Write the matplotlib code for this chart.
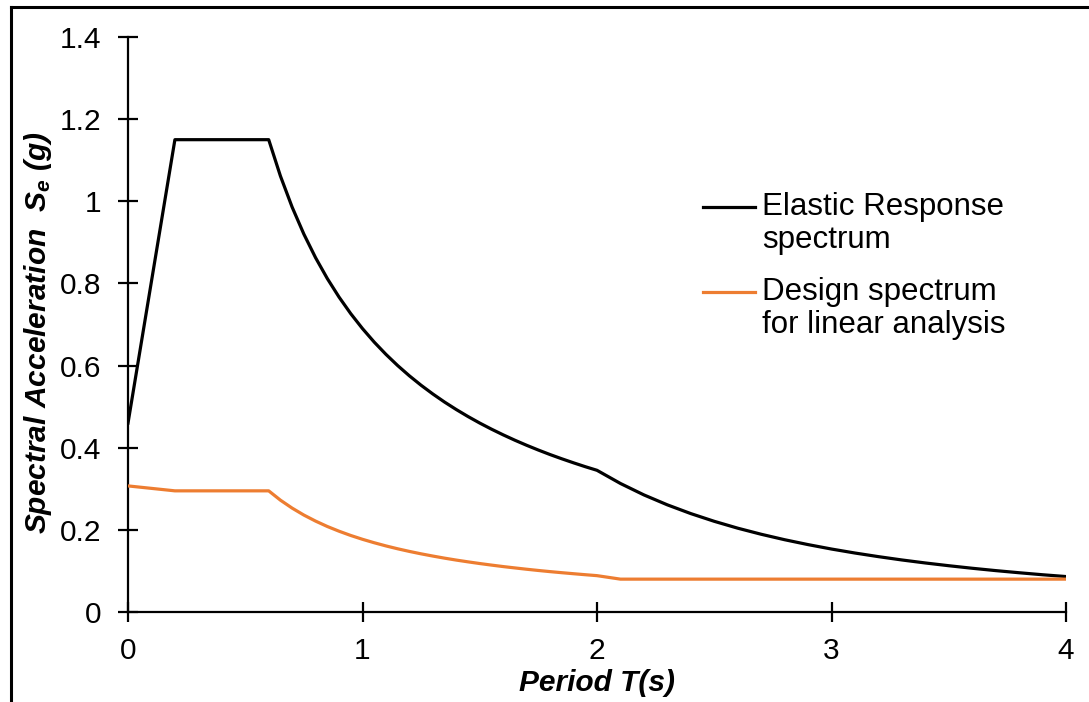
import matplotlib
matplotlib.use("Agg")
import matplotlib.pyplot as plt
from matplotlib.lines import Line2D

# Data
period_elastic = [0.0, 0.2, 0.6, 0.65, 0.7, 0.75, 0.8, 0.85, 0.9, 0.95, 1.0, 1.05, 1.1, 1.15, 1.2,
                  1.25, 1.3, 1.35, 1.4, 1.45, 1.5, 1.55, 1.6, 1.65, 1.7, 1.75, 1.8, 1.85, 1.9, 1.95,
                  2.0, 2.1, 2.2, 2.3, 2.4, 2.5, 2.6, 2.7, 2.8, 2.9, 3.0, 3.1, 3.2, 3.3, 3.4, 3.5,
                  3.6, 3.7, 3.8, 3.9, 4.0]
se_elastic = [0.46, 1.15, 1.15, 1.0615, 0.9857, 0.920, 0.8625, 0.8118, 0.7667, 0.7263, 0.690,
              0.6571, 0.6273, 0.600, 0.575, 0.552, 0.5308, 0.5111, 0.4929, 0.4759, 0.460, 0.4452,
              0.4313, 0.4182, 0.4059, 0.3943, 0.3833, 0.3730, 0.3632, 0.3538, 0.345, 0.3129,
              0.2851, 0.2609, 0.2396, 0.2208, 0.2041, 0.1893, 0.1760, 0.1641, 0.1533, 0.1436,
              0.1348, 0.1267, 0.1194, 0.1127, 0.1065, 0.1008, 0.0956, 0.0907, 0.0863]

period_design = [0.0, 0.2, 0.6, 0.65, 0.7, 0.75, 0.8, 0.85, 0.9, 0.95, 1.0, 1.05, 1.1, 1.15, 1.2,
                 1.25, 1.3, 1.35, 1.4, 1.45, 1.5, 1.55, 1.6, 1.65, 1.7, 1.75, 1.8, 1.85, 1.9, 1.95,
                 2.0, 2.1, 4.0]
se_design = [0.307, 0.295, 0.295, 0.2723, 0.2529, 0.236, 0.2213, 0.2082, 0.1967, 0.1863, 0.177,
             0.1686, 0.1609, 0.1539, 0.1475, 0.1416, 0.1362, 0.1311, 0.1264, 0.1221, 0.118,
             0.1142, 0.1106, 0.1073, 0.1041, 0.1011, 0.0983, 0.0957, 0.0932, 0.0908, 0.0885,
             0.080, 0.080]

x_ticks = [0, 1, 2, 3, 4]
y_ticks = [0, 0.2, 0.4, 0.6, 0.8, 1.0, 1.2, 1.4]
y_tick_labels = ["0", "0.2", "0.4", "0.6", "0.8", "1", "1.2", "1.4"]

label_elastic = ["Elastic Response", "spectrum"]
label_design = ["Design spectrum", "for linear analysis"]
x_label = "Period T(s)"
y_label = r"Spectral Acceleration  S$_\mathregular{e}$ (g)"

plt.rcParams['font.family'] = ['Liberation Sans', 'DejaVu Sans']
plt.rcParams['mathtext.default'] = 'regular'

W, H = 1089, 702
fig = plt.figure(figsize=(W / 100, H / 100), dpi=100)


def px(x, y):
    return (x / W, 1 - y / H)


ax = fig.add_axes([128 / W, 1 - 612 / H, (1066 - 128) / W, (612 - 37) / H])

black = "#000000"
orange = "#ED7D31"
ax.plot(period_elastic, se_elastic, color=black, lw=2.3, zorder=3)
ax.plot(period_design, se_design, color=orange, lw=2.3, zorder=3)

ax.set_xlim(0, 4)
ax.set_ylim(0, 1.4)
ax.set_xticks(x_ticks)
ax.set_xticklabels([str(t) for t in x_ticks])
ax.set_yticks(y_ticks)
ax.set_yticklabels(y_tick_labels)

for s in ['top', 'right']:
    ax.spines[s].set_visible(False)
for s in ['left', 'bottom']:
    ax.spines[s].set_linewidth(1.6)
    ax.spines[s].set_color(black)

ax.tick_params(axis='both', direction='inout', length=14, width=1.6, labelsize=21.5, colors=black)
ax.tick_params(axis='y', pad=12)
ax.tick_params(axis='x', pad=11)
ax.patch.set_visible(False)

fig.text(*px(597, 683), x_label, ha='center', va='center', fontsize=21.5,
         fontweight='bold', style='italic')
fig.text(*px(38, 333), y_label, ha='center', va='center', rotation=90, fontsize=21.5,
         fontweight='bold', style='italic')

# Legend (manual, Excel-like: handle aligned with first line of each label)
leg_items = [(label_elastic, black, 207), (label_design, orange, 292)]
for lines, col, yc in leg_items:
    x0, y0 = px(703, yc)
    x1, _ = px(755, yc)
    fig.add_artist(Line2D([x0, x1], [y0, y0], color=col, lw=2.3, transform=fig.transFigure))
    for i, t in enumerate(lines):
        fig.text(*px(762, yc + i * 33), t, ha='left', va='center', fontsize=22.5)

# Figure frame (top and left edges visible)
fig.add_artist(Line2D([px(11, 7)[0], 1.0], [px(11, 7)[1]] * 2, color=black, lw=2.2,
                      transform=fig.transFigure))
fig.add_artist(Line2D([px(11, 7)[0]] * 2, [px(11, 7)[1], 0.0], color=black, lw=2.2,
                      transform=fig.transFigure))

fig.savefig("out.png", dpi=100, facecolor="white")
